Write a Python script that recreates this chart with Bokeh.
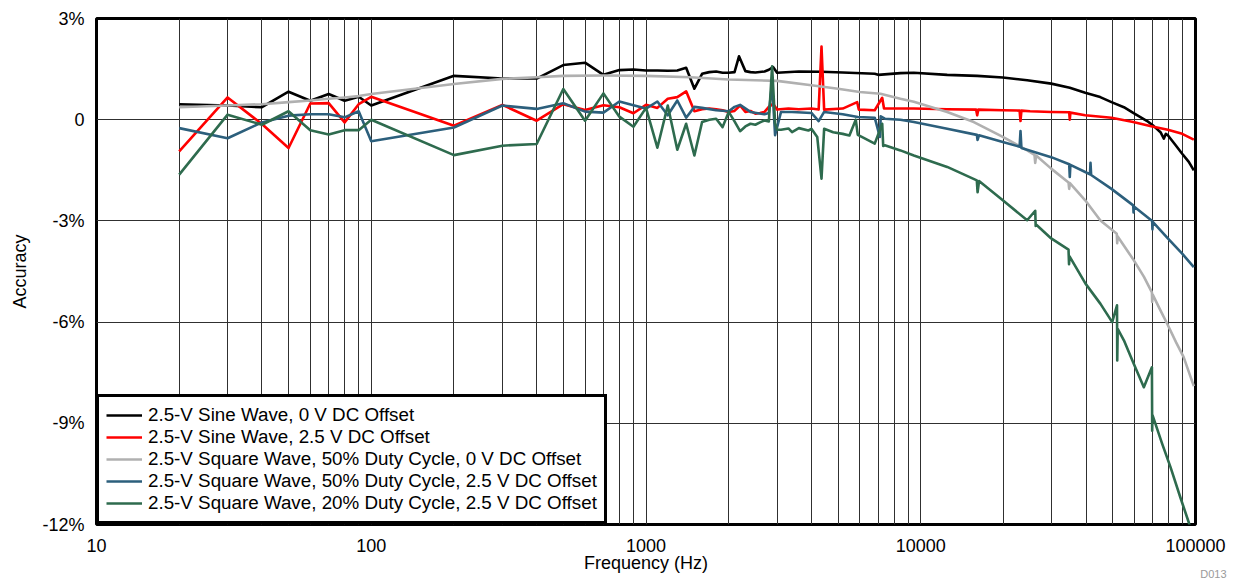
import numpy as np
from bokeh.plotting import figure
from bokeh.models import (Range1d, FixedTicker, CustomJSTickFormatter, Legend,
                          LegendItem, Title)
from bokeh.embed import file_html
from bokeh.resources import INLINE

# ---------------- data ----------------
x_major_ticks = [10, 100, 1000, 10000, 100000]
y_ticks = [-12, -9, -6, -3, 0, 3]

labels = [
    "2.5-V Sine Wave, 0 V DC Offset",
    "2.5-V Sine Wave, 2.5 V DC Offset",
    "2.5-V Square Wave, 50% Duty Cycle, 0 V DC Offset",
    "2.5-V Square Wave, 50% Duty Cycle, 2.5 V DC Offset",
    "2.5-V Square Wave, 20% Duty Cycle, 2.5 V DC Offset",
]

f_sine_0 = [20, 30, 40, 50, 60, 70, 80, 90, 100,
            200, 300, 400, 500, 600, 700, 800, 900, 1000,
            1100, 1200, 1300, 1400, 1500, 1600, 1700, 1800, 1900, 2000,
            2100, 2180, 2300, 2400, 2500, 2700, 2800, 2900, 3000,
            3600, 4350, 5200, 6800, 7000, 8433, 9437,
            12481, 16050, 19890, 24400, 29840, 34870, 39680, 45000, 49460, 54870,
            59330, 66680, 70500, 74580, 76700, 78000, 79310, 84000, 89440, 94540, 98590]
a_sine_0 = [0.46, 0.42, 0.37, 0.83, 0.56, 0.76, 0.56, 0.68, 0.42,
            1.30, 1.22, 1.22, 1.62, 1.69, 1.33, 1.47, 1.49, 1.46,
            1.46, 1.45, 1.46, 1.54, 0.92, 1.36, 1.41, 1.43, 1.39, 1.39,
            1.41, 1.88, 1.44, 1.41, 1.40, 1.43, 1.48, 1.56, 1.39,
            1.43, 1.42, 1.40, 1.36, 1.33, 1.38, 1.39,
            1.33, 1.30, 1.25, 1.17, 1.07, 0.95, 0.80, 0.67, 0.52, 0.37,
            0.20, -0.04, -0.19, -0.37, -0.56, -0.42, -0.46, -0.72, -1.01, -1.25, -1.50]

f_sine_25 = [20, 30, 40, 50, 60, 70, 80, 90, 100,
             200, 300, 400, 500, 600, 700, 800, 900, 1000,
             1100, 1200, 1300, 1400, 1500, 1600, 1700, 1800, 1900, 2000,
             2100, 2200, 2300, 2400, 2500, 2600, 2700, 2800, 2900, 3000,
             3300, 3600, 4000, 4250, 4353, 4450, 5200, 5870, 5950, 6800,
             7240, 7350, 8433, 9437, 12481, 15900, 16050, 16200, 19890,
             22900, 23070, 23250, 25000, 29840, 34700, 34870, 35050,
             39680, 49460, 59330, 69560, 79310, 89440, 98590]
a_sine_25 = [-0.94, 0.66, -0.13, -0.84, 0.48, 0.49, -0.08, 0.46, 0.68,
             -0.18, 0.44, -0.03, 0.46, 0.29, 0.43, 0.37, 0.19, 0.44,
             0.35, 0.62, 0.67, 0.84, 0.25, 0.31, 0.33, 0.31, 0.28, 0.23,
             0.26, 0.42, 0.23, 0.26, 0.18, 0.20, 0.23, 0.38, 0.47, 0.30,
             0.33, 0.31, 0.33, 0.30, 2.17, 0.30, 0.33, 0.52, 0.30, 0.28,
             0.65, 0.33, 0.33, 0.33, 0.31, 0.30, 0.13, 0.30, 0.28,
             0.27, -0.04, 0.27, 0.25, 0.23, 0.22, 0.00, 0.21,
             0.13, 0.06, -0.07, -0.20, -0.30, -0.42, -0.59]

f_sq50_0 = [20, 30, 40, 50, 60, 70, 80, 90, 100,
            200, 300, 400, 500, 700, 1000, 1450, 2000, 3000, 4000, 5000, 6000,
            7137, 8433, 9437, 12481, 15600, 19890, 24400, 25940, 26100, 26300,
            29840, 34500, 34700, 34900, 39680, 45080, 51700, 51880, 52100,
            59650, 64860, 69400, 69560, 69800, 74000, 78880, 85000, 90550, 98590]
a_sq50_0 = [0.37, 0.42, 0.46, 0.52, 0.57, 0.62, 0.66, 0.70, 0.76,
            1.06, 1.21, 1.26, 1.30, 1.31, 1.30, 1.26, 1.19, 1.15, 1.02, 0.92, 0.82,
            0.77, 0.62, 0.53, 0.23, -0.07, -0.51, -0.91, -1.04, -1.28, -1.06,
            -1.45, -1.86, -2.05, -1.88, -2.39, -2.99, -3.38, -3.66, -3.46,
            -4.17, -4.65, -5.12, -5.40, -5.18, -5.60, -6.05, -6.60, -7.04, -7.90]

f_sq50_25 = [20, 30, 40, 50, 60, 70, 80, 90, 100,
             200, 300, 400, 500, 600, 700, 800, 900, 1000,
             1100, 1200, 1300, 1400, 1500, 1600, 1800, 2000, 2100, 2200,
             2400, 2700, 2800, 2877, 2950, 3100, 3400, 4000, 4250, 4450,
             5200, 5900, 6800, 7100, 7150, 7400, 8433, 9437, 12481,
             16000, 16100, 16300, 19890, 22900, 23070, 23250, 29840,
             34700, 34870, 35050, 39680, 41300, 41480, 41700, 49460,
             59330, 59500, 59700, 69560, 69700, 69900, 79310, 89440, 98590]
a_sq50_25 = [-0.25, -0.55, -0.08, 0.12, 0.16, 0.16, 0.07, 0.25, -0.64,
             -0.23, 0.42, 0.32, 0.49, 0.24, 0.21, 0.54, 0.43, 0.33,
             0.54, 0.13, 0.57, 0.06, 0.38, 0.35, 0.28, 0.25, 0.38, 0.44,
             0.23, 0.16, 0.20, 1.07, -0.46, 0.23, 0.23, 0.20, -0.04, 0.23,
             0.16, 0.08, 0.06, -0.51, 0.10, 0.03, 0.00, -0.07, -0.27,
             -0.45, -0.60, -0.46, -0.66, -0.80, -0.34, -0.84, -1.11,
             -1.32, -1.70, -1.34, -1.55, -1.62, -1.28, -1.64, -2.05,
             -2.54, -2.75, -2.57, -3.00, -3.25, -3.03, -3.52, -3.97, -4.37]

f_sq20_25 = [20, 30, 40, 50, 60, 70, 80, 90, 100,
             200, 300, 400, 500, 600, 700, 800, 900, 1000,
             1100, 1200, 1300, 1400, 1500, 1600, 1700, 1800, 1900, 2000,
             2100, 2200, 2300, 2400, 2500, 2600, 2700, 2800, 2877, 2950,
             3000, 3100, 3300, 3400, 3600, 3900, 4000, 4200, 4353, 4450,
             4800, 5200, 5500, 5800, 5900, 6100, 6800, 7240, 7300, 7400,
             8433, 9437, 12481, 16000, 16100, 16300, 19890, 24400,
             26100, 26200, 26400, 29840, 34500, 34650, 34800, 39780, 45100,
             49750, 51800, 51900, 52100, 54870, 59650, 64860, 69400, 69560,
             69700, 75650, 81100, 88100, 94540, 97000]
a_sq20_25 = [-1.63, 0.15, -0.15, 0.25, -0.31, -0.44, -0.31, -0.31, 0.00,
             -1.05, -0.77, -0.72, 0.91, -0.03, 0.78, 0.09, -0.21, 0.35,
             -0.83, 0.42, -0.89, -0.12, -1.06, -0.07, 0.00, 0.03, -0.22, 0.23,
             -0.05, -0.34, -0.20, -0.12, -0.15, -0.08, -0.02, -0.05, 1.58, -0.10,
             -0.30, -0.30, -0.26, -0.37, -0.25, -0.32, -0.27, -0.51, -1.75, -0.27,
             -0.37, -0.42, -0.47, 0.00, -0.45, -0.51, -0.71, -0.12, -0.78, -0.76,
             -0.91, -1.06, -1.40, -1.80, -2.15, -1.82, -2.39, -2.98,
             -2.70, -3.15, -3.12, -3.52, -3.85, -4.28, -4.05, -4.86, -5.46,
             -6.00, -5.50, -7.14, -6.20, -6.54, -7.24, -7.93, -7.34, -9.22,
             -8.75, -9.61, -10.30, -11.20, -11.94, -12.30]

series = [
    (f_sine_0, a_sine_0, "#000000"),
    (f_sine_25, a_sine_25, "#FF0000"),
    (f_sq50_0, a_sq50_0, "#B0B0B0"),
    (f_sq50_25, a_sq50_25, "#2C5F7C"),
    (f_sq20_25, a_sq20_25, "#2E6B4E"),
]

# ---------------- figure ----------------
FONT = "Liberation Sans"

p = figure(width=1237, height=580, x_axis_type="log",
           x_range=Range1d(10, 100000), y_range=Range1d(-12, 3),
           output_backend="svg", toolbar_location=None, title=None,
           min_border_left=96, min_border_right=42,
           min_border_top=18, min_border_bottom=56)

p.outline_line_color = "black"
p.outline_line_width = 3
p.background_fill_color = "white"
p.border_fill_color = "white"

minor = [k * d for d in [10, 100, 1000, 10000] for k in range(2, 10)]
p.xaxis.ticker = FixedTicker(ticks=x_major_ticks, minor_ticks=minor)
p.yaxis.ticker = FixedTicker(ticks=y_ticks)
p.xaxis.formatter = CustomJSTickFormatter(code="return tick.toFixed(0);")
p.yaxis.formatter = CustomJSTickFormatter(
    code="return tick == 0 ? '0' : tick.toFixed(0) + '%';")

for ax in (p.xaxis[0], p.yaxis[0]):
    ax.axis_line_color = None
    ax.major_tick_line_color = None
    ax.minor_tick_line_color = None
    ax.major_tick_out = 0
    ax.major_tick_in = 0
    ax.minor_tick_out = 0
    ax.minor_tick_in = 0
    ax.major_label_text_font = FONT
    ax.major_label_text_font_size = "18px"
    ax.major_label_text_color = "black"
    ax.axis_label_text_font = FONT
    ax.axis_label_text_font_size = "18px"
    ax.axis_label_text_font_style = "normal"
    ax.axis_label_text_color = "black"
p.xaxis.major_label_standoff = 14
p.yaxis.major_label_standoff = 12
p.xaxis.axis_label = "Frequency (Hz)"
p.xaxis.axis_label_standoff = -2
p.yaxis.axis_label = "Accuracy"
p.yaxis.axis_label_standoff = 9

p.xgrid.grid_line_color = "#303030"
p.xgrid.minor_grid_line_color = "#303030"
p.xgrid.grid_line_width = 1
p.xgrid.minor_grid_line_width = 1
p.ygrid.grid_line_color = "#303030"
p.ygrid.grid_line_width = 1

renderers = []
for f, a, c in series:
    r = p.line(f, a, line_color=c, line_width=2.6, line_join="round")
    renderers.append(r)

legend = Legend(
    items=[LegendItem(label=lab, renderers=[r]) for lab, r in zip(labels, renderers)],
    location="bottom_left", margin=0, padding=7, spacing=-3,
    label_height=20, glyph_height=20, glyph_width=36, label_standoff=6,
    border_line_color="black", border_line_width=3, border_line_alpha=1.0,
    background_fill_color="white", background_fill_alpha=1.0,
    label_text_font=FONT, label_text_font_size="18.8px", label_text_color="black",
    label_text_line_height=0.92,
)
p.add_layout(legend)

p.add_layout(Title(text="D013", align="right", vertical_align="top",
                   text_font=FONT, text_font_size="11px", text_font_style="normal",
                   text_color="#9a9a9a", standoff=-16, offset=-31), "below")

open("out.html", "w").write(file_html(p, INLINE))
